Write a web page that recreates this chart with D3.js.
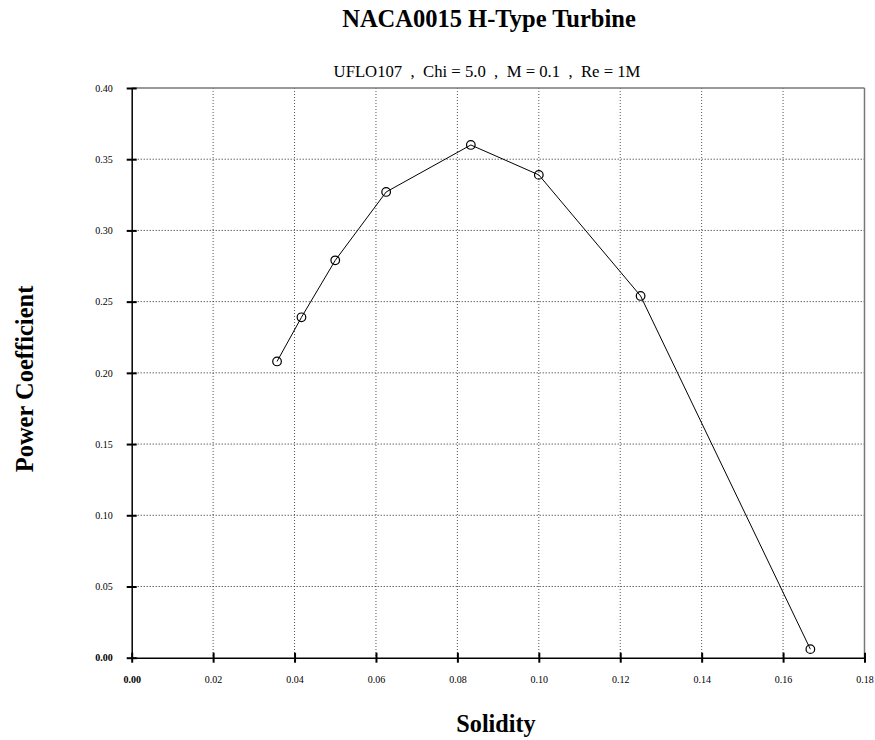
<!DOCTYPE html>
<html><head><meta charset="utf-8">
<script src="https://cdn.jsdelivr.net/npm/d3@7"></script>
<style>body{margin:0;background:#fff}svg{display:block}text{font-family:"Liberation Serif","Times New Roman",serif}</style>
</head><body>
<script>
const solidity = [0.0357, 0.0417, 0.05, 0.0625, 0.0833, 0.10, 0.125, 0.1667];
const powerCoef = [0.208, 0.239, 0.279, 0.327, 0.360, 0.339, 0.254, 0.006];
const xTicks = [0, 0.02, 0.04, 0.06, 0.08, 0.10, 0.12, 0.14, 0.16, 0.18];
const yTicks = [0, 0.05, 0.10, 0.15, 0.20, 0.25, 0.30, 0.35, 0.40];
const title = "NACA0015 H-Type Turbine";
const subtitle = "UFLO107  ,  Chi = 5.0  ,  M = 0.1  ,  Re = 1M";
const xLabel = "Solidity", yLabel = "Power Coefficient";

const W = 875, H = 740;
const L = 131.7, R = 864.5, T = 88, B = 657.7;
const svg = d3.select("body").append("svg").attr("width", W).attr("height", H);
const x = d3.scaleLinear().domain([0, 0.18]).range([L, R]);
const y = d3.scaleLinear().domain([0, 0.40]).range([B, T]);

// grid
svg.append("g").selectAll("line").data(xTicks.slice(1, -1)).join("line")
  .attr("x1", d => x(d)).attr("x2", d => x(d)).attr("y1", T).attr("y2", B)
  .attr("stroke", "#555").attr("stroke-width", 1).attr("stroke-dasharray", "1,2");
svg.append("g").selectAll("line").data(yTicks.slice(1, -1)).join("line")
  .attr("x1", L).attr("x2", R).attr("y1", d => y(d)).attr("y2", d => y(d))
  .attr("stroke", "#222").attr("stroke-width", 1).attr("stroke-dasharray", "1,2");

// frame top/right
svg.append("line").attr("x1", L).attr("x2", R).attr("y1", T).attr("y2", T).attr("stroke", "#777").attr("stroke-width", 1.5);
svg.append("line").attr("x1", R).attr("x2", R).attr("y1", T).attr("y2", B).attr("stroke", "#777").attr("stroke-width", 1.5);

// axes
const xAxis = d3.axisBottom(x).tickValues(xTicks).tickFormat(d3.format(".2f")).tickSizeInner(5).tickSizeOuter(0).tickPadding(13);
const gx = svg.append("g").attr("transform", `translate(0,${B})`).call(xAxis);
gx.select(".domain").attr("stroke", "#000").attr("stroke-width", 1.5);
gx.selectAll(".tick line").attr("y1", -5).attr("stroke-width", 2);
gx.selectAll(".tick text").attr("font-size", 10).attr("font-family", "Liberation Serif").attr("fill", "#000");

const yAxis = d3.axisLeft(y).tickValues(yTicks).tickFormat(d3.format(".2f")).tickSizeInner(5).tickSizeOuter(0).tickPadding(14);
const gy = svg.append("g").attr("transform", `translate(${L},0)`).call(yAxis);
gy.select(".domain").attr("stroke", "#000").attr("stroke-width", 1.5);
gy.selectAll(".tick line").attr("x2", 5).attr("x1", -5).attr("stroke-width", 2);
gy.selectAll(".tick text").attr("font-size", 10).attr("font-family", "Liberation Serif").attr("fill", "#000");
gx.selectAll(".tick text").filter(d => d === 0).attr("font-weight", "bold");
gy.selectAll(".tick text").filter(d => d === 0).attr("font-weight", "bold");

// data line and markers
const pts = solidity.map((s, i) => [s, powerCoef[i]]);
svg.append("path").datum(pts)
  .attr("d", d3.line().x(d => x(d[0])).y(d => y(d[1])))
  .attr("fill", "none").attr("stroke", "#000").attr("stroke-width", 1);
svg.append("g").selectAll("circle").data(pts).join("circle")
  .attr("cx", d => x(d[0])).attr("cy", d => y(d[1])).attr("r", 4.3)
  .attr("fill", "none").attr("stroke", "#000").attr("stroke-width", 1.2);

// texts
svg.append("text").attr("x", 489).attr("y", 27).attr("text-anchor", "middle")
  .attr("font-size", 24.5).attr("font-weight", "bold").text(title);
svg.append("text").attr("x", 487).attr("y", 77).attr("text-anchor", "middle")
  .attr("font-size", 16.7).style("white-space", "pre").text(subtitle);
svg.append("text").attr("x", 496).attr("y", 731.5).attr("text-anchor", "middle")
  .attr("font-size", 24.2).attr("font-weight", "bold").text(xLabel);
svg.append("text").attr("transform", "translate(33,379) rotate(-90)").attr("text-anchor", "middle")
  .attr("font-size", 24.5).attr("font-weight", "bold").text(yLabel);
</script>
</body></html>
